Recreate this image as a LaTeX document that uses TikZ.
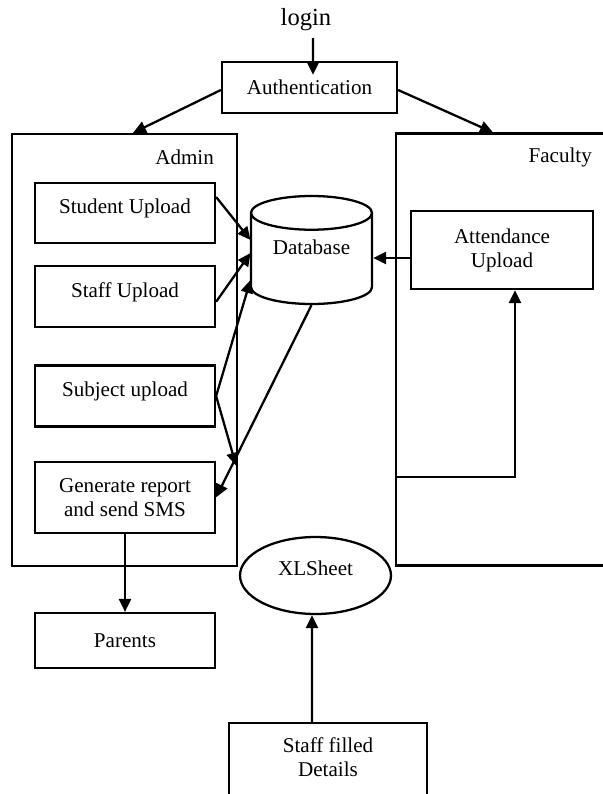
\documentclass[tikz,border=0pt]{standalone}
\usepackage{fontspec}
\setmainfont{Liberation Serif}
\usetikzlibrary{positioning}
\usetikzlibrary{arrows.meta}
\usetikzlibrary{shapes.geometric}

\begin{document}
\begin{tikzpicture}[x=0.02cm,y=-0.02cm,->,>={Triangle[length=0.26cm,width=0.24cm]},line width=1.3pt,
  every node/.style={font=\fontsize{12}{13.6}\selectfont},
  box node/.style={rectangle,draw,align=center,minimum width=3.6cm},
  upload node/.style={box node,minimum height=1.22cm,text depth=0.28cm},
  frame node/.style={rectangle,draw,minimum width=4.5cm,minimum height=8.64cm},
  title node/.style={anchor=east,inner sep=0pt}]
\useasboundingbox (0,0) rectangle (602,794);
\node[font=\fontsize{14}{16}\selectfont] (login) at (306,20) {login};
\node[box node,minimum width=3.5cm,minimum height=1.02cm] (auth) at (309.5,87.5) {Authentication};

\node[frame node] (admin) at (124.5,350) {};
\node[title node] (admintitle) at (215,157) {Admin};
\node[frame node] (faculty) at (508.5,349.5) {};
\node[title node] (facultytitle) at (593,157) {Faculty};

\node[upload node,minimum height=1.2cm] (studup) at (125,213) {Student Upload};
\node[upload node] (staffup) [below=0.42cm of studup] {Staff Upload};
\node[upload node] (subjup) [below=0.72cm of staffup] {Subject upload};
\node[box node,minimum height=1.42cm] (genrep) [below=0.66cm of subjup] {Generate report\\and send SMS};
\node[box node,minimum height=1.1cm] (parents) [below=1.56cm of genrep] {Parents};

\node[cylinder,shape border rotate=90,draw,aspect=0.4,inner sep=2pt,minimum width=2.42cm,minimum height=2.16cm,text depth=0.58cm,anchor=shape center] (db) at (311.5,250) {Database};
\node[box node,minimum width=3.64cm,minimum height=1.56cm] (attend) at (502,250) {Attendance\\Upload};

\node[ellipse,draw,minimum width=3.02cm,minimum height=1.54cm,text depth=0.28cm] (xls) at (315.5,575.5) {XLSheet};
\node[box node,minimum width=3.96cm,minimum height=2cm,text depth=0.65cm] (staffdet) at (328,773) {Staff filled\\Details};

\draw[->,shorten >=-0.28cm] ([xshift=0.14cm]login.south) -- ([xshift=0.07cm]auth.north);
\draw[->] ([yshift=-0.05cm]auth.west) -- ([xshift=0.17cm]admin.north);
\draw[->] ([yshift=-0.05cm]auth.east) -- ([xshift=-0.31cm]faculty.north);
\draw[->] ([yshift=0.32cm]studup.east) -- ([xshift=-1.22cm,yshift=0.2cm]db.shape center);
\draw[->] ([yshift=-0.1cm]staffup.east) -- ([xshift=-1.22cm,yshift=-0.06cm]db.shape center);
\draw[->] (subjup.east) -- ([xshift=-1.22cm,yshift=-0.6cm]db.shape center);
\draw[->] (subjup.east) -- ([xshift=0.4cm,yshift=-0.1cm]genrep.north east);
\draw[->] (db.south) -- (genrep.east);
\draw[->] ([yshift=-0.16cm]attend.west) -- ([yshift=-0.16cm]attend.west -| db.east);
\draw[->] ([yshift=-2.55cm]faculty.west) -| ([xshift=0.26cm]attend.south);
\draw[->] (genrep) -- (parents);
\draw[->] ([xshift=-0.32cm]staffdet.north) -- ([xshift=-0.07cm]xls.south);
\end{tikzpicture}
\end{document}
